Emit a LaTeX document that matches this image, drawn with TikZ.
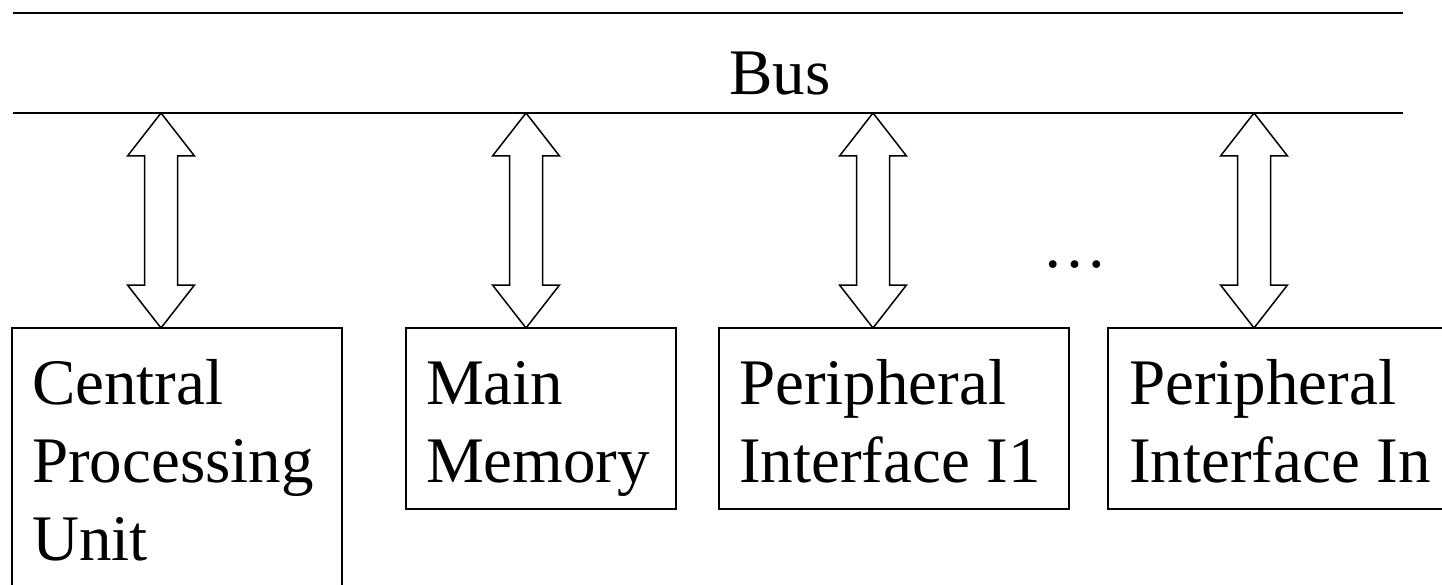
\documentclass[tikz,border=0pt]{standalone}
\usepackage{fontspec}
\setmainfont{Liberation Serif}
\usetikzlibrary{positioning,calc}

\begin{document}
\begin{tikzpicture}[x=1pt, y=1pt, every node/.style={font=\fontsize{65pt}{78pt}\selectfont},
      box/.style={draw, line width=1.5pt, outer sep=0pt, inner sep=0pt, anchor=north west},
      boxtext/.style={inner sep=0pt, align=left},
      busline/.style={line width=2pt},
      busarrow/.style={draw, fill=white, line width=1.5pt, line join=miter, to path={
        let \p1=(\tikztostart), \p2=(\tikztotarget) in
        (\x1,\y1) -- (\x1-33.5pt,\y1-43pt) -- (\x1-16.5pt,\y1-43pt) -- (\x1-16.5pt,\y2+43pt)
        -- (\x1-33.5pt,\y2+43pt) -- (\x1,\y2) -- (\x1+33.5pt,\y2+43pt) -- (\x1+16.5pt,\y2+43pt)
        -- (\x1+16.5pt,\y1-43pt) -- (\x1+33.5pt,\y1-43pt) -- cycle}}]
    \path[use as bounding box, clip] (0,0) rectangle (1442,-585);
    % bus
    \coordinate (topL) at (12.5,-13); \coordinate (topR) at (1403,-13);
    \coordinate (busL) at (12.5,-113); \coordinate (busR) at (1403,-113);
    \draw[busline] (topL) -- (topR);
    \draw[busline] (busL) -- (busR);
    \node[anchor=base west, inner sep=0pt] (bus) at (729,-95) {Bus};
    % units
    \node[box, minimum width=330pt, minimum height=300pt] (cpu) at (12,-328) {};
    \node[box, minimum width=270pt, minimum height=181pt] (mem) at (406,-328) {};
    \node[box, minimum width=350pt, minimum height=181pt] (pi1) at (719,-328) {};
    \node[box, minimum width=370pt, minimum height=181pt] (pin) at (1108,-328) {};
    \node[boxtext, below right=31pt and 20pt of cpu.north west] (cputxt) {\vphantom{l}Central\\Processing\\Unit};
    \node[boxtext, below right=31pt and 20pt of mem.north west] (memtxt) {\vphantom{l}Main\\Memory};
    \node[boxtext, below right=31pt and 20pt of pi1.north west] (pi1txt) {\vphantom{l}Peripheral\\Interface I1};
    \node[boxtext, below right=31pt and 21pt of pin.north west] (pintxt) {\vphantom{l}Peripheral\\Interface In};
    \node[anchor=base, inner sep=0pt] (dots) at (1075,-267) {…};
    % taps
    \coordinate (tap1) at (161,-113); \coordinate (tap2) at (526,-113);
    \coordinate (tap3) at (873,-113); \coordinate (tap4) at (1254,-113);
    \draw[busarrow] (tap1) to (tap1 |- cpu.north);
    \draw[busarrow] (tap2) to (tap2 |- mem.north);
    \draw[busarrow] (tap3) to (tap3 |- pi1.north);
    \draw[busarrow] (tap4) to (tap4 |- pin.north);
\end{tikzpicture}
\end{document}
